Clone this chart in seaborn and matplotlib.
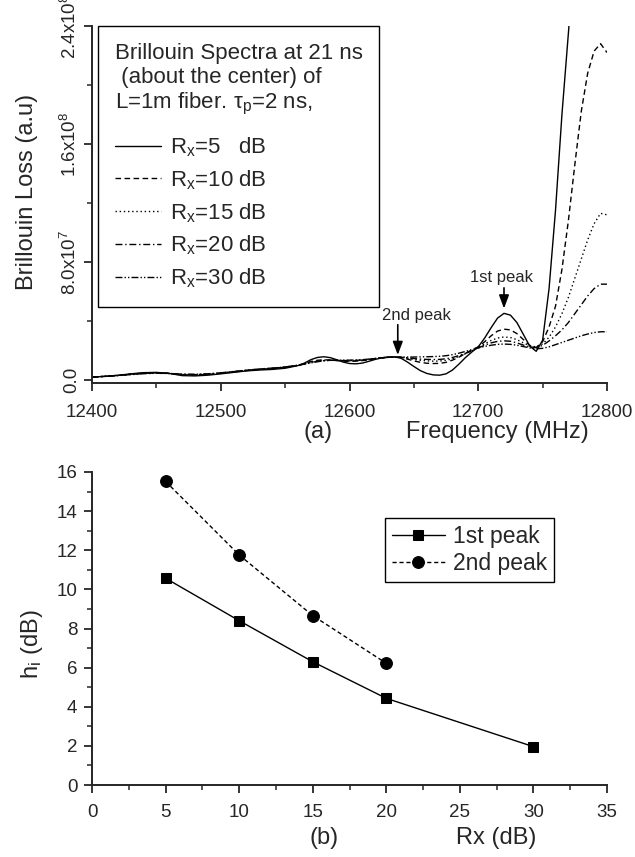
import pandas as pd
import matplotlib
matplotlib.use('Agg')
import matplotlib.pyplot as plt
import seaborn as sns
from matplotlib.ticker import MultipleLocator

# ---- panel (a): Brillouin spectra (units of 1e7) ----
freq = [12400, 12410, 12420, 12430, 12440, 12450, 12460, 12470, 12480, 12490,
        12500, 12510, 12520, 12530, 12540, 12550, 12560, 12565, 12570, 12575,
        12580, 12585, 12590, 12595, 12600, 12605, 12610, 12615, 12620, 12625,
        12630, 12635, 12640, 12645, 12650, 12655, 12660, 12665, 12670, 12675,
        12680, 12685, 12690, 12695, 12700, 12705, 12710, 12715, 12720, 12725,
        12730, 12735, 12740, 12745, 12750, 12755, 12760, 12765, 12770, 12775,
        12780, 12785, 12790, 12795, 12800]

loss_5 = [0.20, 0.25, 0.32, 0.42, 0.50, 0.52, 0.45, 0.30, 0.28, 0.33,
          0.42, 0.52, 0.62, 0.68, 0.72, 0.80, 0.98, 1.15, 1.38, 1.53,
          1.58, 1.52, 1.38, 1.22, 1.12, 1.10, 1.15, 1.27, 1.40, 1.50,
          1.56, 1.57, 1.48, 1.22, 0.92, 0.64, 0.45, 0.35, 0.33, 0.42,
          0.68, 1.08, 1.52, 1.90, 2.25, 2.85, 3.55, 4.20, 4.52, 4.40,
          3.90, 3.10, 2.30, 1.95, 2.70, 6.20, 11.5, 18.0, 23.5, 29.0,
          None, None, None, None, None]
loss_10 = [0.20, 0.25, 0.32, 0.40, 0.47, 0.50, 0.45, 0.36, 0.34, 0.38,
           0.46, 0.55, 0.64, 0.72, 0.78, 0.86, 1.00, 1.12, 1.26, 1.34,
           1.37, 1.36, 1.32, 1.28, 1.27, 1.28, 1.32, 1.38, 1.45, 1.51,
           1.55, 1.56, 1.53, 1.42, 1.30, 1.20, 1.14, 1.12, 1.13, 1.20,
           1.35, 1.55, 1.80, 2.05, 2.25, 2.60, 3.00, 3.32, 3.45, 3.40,
           3.15, 2.75, 2.35, 2.20, 2.60, 3.60, 5.00, 7.50, 10.8, 14.6,
           18.2, 20.8, 22.3, 22.8, 22.2]
loss_15 = [0.20, 0.25, 0.31, 0.39, 0.46, 0.49, 0.45, 0.38, 0.36, 0.40,
           0.47, 0.56, 0.65, 0.73, 0.79, 0.87, 1.00, 1.10, 1.22, 1.30,
           1.34, 1.35, 1.33, 1.31, 1.30, 1.31, 1.34, 1.39, 1.45, 1.50,
           1.54, 1.55, 1.54, 1.47, 1.40, 1.34, 1.30, 1.28, 1.29, 1.34,
           1.44, 1.60, 1.78, 1.98, 2.20, 2.45, 2.68, 2.85, 2.92, 2.88,
           2.74, 2.52, 2.32, 2.25, 2.45, 2.90, 3.60, 4.50, 5.60, 6.90,
           8.20, 9.50, 10.6, 11.3, 11.2]
loss_20 = [0.20, 0.25, 0.31, 0.38, 0.45, 0.48, 0.45, 0.39, 0.37, 0.41,
           0.48, 0.57, 0.66, 0.74, 0.80, 0.88, 1.00, 1.09, 1.19, 1.27,
           1.32, 1.34, 1.34, 1.32, 1.32, 1.33, 1.36, 1.40, 1.46, 1.51,
           1.54, 1.55, 1.55, 1.51, 1.46, 1.42, 1.40, 1.39, 1.40, 1.44,
           1.53, 1.66, 1.81, 1.98, 2.18, 2.36, 2.52, 2.62, 2.66, 2.63,
           2.52, 2.37, 2.25, 2.20, 2.35, 2.65, 3.00, 3.40, 3.90, 4.50,
           5.10, 5.70, 6.20, 6.50, 6.50]
loss_30 = [0.20, 0.25, 0.30, 0.37, 0.43, 0.46, 0.44, 0.40, 0.39, 0.42,
           0.49, 0.58, 0.67, 0.75, 0.81, 0.89, 1.00, 1.08, 1.16, 1.24,
           1.30, 1.33, 1.35, 1.35, 1.35, 1.36, 1.38, 1.42, 1.47, 1.51,
           1.54, 1.55, 1.56, 1.56, 1.56, 1.57, 1.58, 1.59, 1.61, 1.65,
           1.72, 1.82, 1.94, 2.06, 2.18, 2.28, 2.36, 2.42, 2.44, 2.42,
           2.36, 2.27, 2.18, 2.12, 2.15, 2.25, 2.40, 2.55, 2.70, 2.85,
           3.00, 3.12, 3.22, 3.27, 3.28]

rx_names = ['5', '10', '15', '20', '30']
rx_labels = ['R$_\\mathrm{x}$=5   dB', 'R$_\\mathrm{x}$=10 dB', 'R$_\\mathrm{x}$=15 dB',
             'R$_\\mathrm{x}$=20 dB', 'R$_\\mathrm{x}$=30 dB']
ytick_vals = [0, 8e7, 1.6e8, 2.4e8]
ytick_labels = ['0.0', '8.0x10$^{7}$', '1.6x10$^{8}$', '2.4x10$^{8}$']

# ---- panel (b): peak heights ----
rx_1st = [5, 10, 15, 20, 30]
h_1st = [10.57, 8.40, 6.30, 4.43, 1.96]
rx_2nd = [5, 10, 15, 20]
h_2nd = [15.52, 11.76, 8.66, 6.22]

sns.set_style('ticks')
plt.rcParams['font.family'] = ['Liberation Sans', 'DejaVu Sans']
plt.rcParams['mathtext.fontset'] = 'custom'
plt.rcParams['mathtext.rm'] = 'Liberation Sans'
plt.rcParams['mathtext.it'] = 'Liberation Sans:italic'
plt.rcParams['mathtext.bf'] = 'Liberation Sans:bold'
plt.rcParams['axes.linewidth'] = 1.4
plt.rcParams['xtick.major.width'] = 1.3
plt.rcParams['ytick.major.width'] = 1.3
plt.rcParams['xtick.minor.width'] = 1.1
plt.rcParams['ytick.minor.width'] = 1.1
plt.rcParams['xtick.major.size'] = 6
plt.rcParams['ytick.major.size'] = 6
plt.rcParams['xtick.minor.size'] = 3.5
plt.rcParams['ytick.minor.size'] = 3.5
plt.rcParams['xtick.direction'] = 'out'
plt.rcParams['ytick.direction'] = 'out'

fig = plt.figure(figsize=(6.35, 8.57), dpi=100)
W, H = 635, 857
ax1 = fig.add_axes([92 / W, 1 - 383 / H, 515 / W, 357 / H])
ax2 = fig.add_axes([92 / W, 1 - 785 / H, 515 / W, 313 / H])

# build long table for seaborn
rows = []
for name, vals in zip(rx_names, [loss_5, loss_10, loss_15, loss_20, loss_30]):
    for f, v in zip(freq, vals):
        if v is not None:
            rows.append({'freq': f, 'loss': v * 1e7, 'rx': name})
spec = pd.DataFrame(rows)

dash_map = {'5': '', '10': (4, 2.5), '15': (1, 2), '20': (5, 2, 1, 2), '30': (5, 1.5, 1, 1.5, 1, 1.5)}
sns.lineplot(data=spec, x='freq', y='loss', style='rx', style_order=rx_names,
             dashes=dash_map, color='black', lw=1.0, estimator=None, sort=False,
             ax=ax1, legend=True)

handles, labels = ax1.get_legend_handles_labels()
hmap = dict(zip(labels, handles))
leg_handles = [hmap[n] for n in rx_names]
for h in leg_handles:
    h.set_color('black')
ax1.get_legend().remove()
title = ('Brillouin Spectra at 21 ns\n (about the center) of\n'
         'L=1m fiber. \u03c4$_\\mathrm{p}$=2 ns,')
leg1 = ax1.legend(leg_handles, rx_labels, title=title, loc='upper left',
                  bbox_to_anchor=(6 / 515, 1.0), borderaxespad=0, fontsize=16,
                  title_fontsize=16, alignment='left', handlelength=2.1,
                  handletextpad=0.4, labelspacing=0.41, borderpad=0.75,
                  fancybox=False, framealpha=1, edgecolor='black')
leg1.get_frame().set_linewidth(1.0)
leg1._legend_box.sep = 13  # extra gap between the caption and the entries

ax1.set_xlim(12400, 12800)
ax1.set_ylim(-2e6, 2.4e8)
ax1.set_xticks([12400, 12500, 12600, 12700, 12800])
ax1.xaxis.set_minor_locator(MultipleLocator(50))
ax1.set_yticks(ytick_vals, ytick_labels)
ax1.yaxis.set_minor_locator(MultipleLocator(4e7))
ax1.tick_params(axis='both', which='major', labelsize=13.5)
ax1.tick_params(axis='x', which='major', pad=9)
ax1.tick_params(axis='y', labelrotation=90, pad=2.5)
for t in ax1.get_yticklabels():
    t.set_va('center')
sns.despine(ax=ax1)

ax1.set_xlabel('Frequency (MHz)', fontsize=17)
ax1.xaxis.set_label_coords(0.788, -0.137)
ax1.xaxis.label.set_va('center')
ax1.set_ylabel('Brillouin Loss (a.u)', fontsize=17)
ax1.yaxis.set_label_coords(-0.126, 0.534)
ax1.yaxis.label.set_va('center')
ax1.text(0.439, -0.137, '(a)', transform=ax1.transAxes, fontsize=17, ha='center', va='center')

arrow = dict(arrowstyle='-|>,head_length=0.8,head_width=0.3', color='black', lw=1.2,
             shrinkA=0, shrinkB=0)
ax1.annotate('', xy=(12720, 4.85e7), xytext=(12720, 6.25e7), arrowprops=arrow)
ax1.text(12718, 6.95e7, '1st peak', fontsize=12, ha='center', va='center')
ax1.annotate('', xy=(12637.5, 1.7e7), xytext=(12637.5, 3.75e7), arrowprops=arrow)
ax1.text(12652, 4.4e7, '2nd peak', fontsize=12, ha='center', va='center')

# ---- panel (b) ----
sns.lineplot(x=rx_1st, y=h_1st, color='black', lw=1.0, marker='s', markersize=7.5,
             markeredgecolor='black', label='1st peak', ax=ax2)
sns.lineplot(x=rx_2nd, y=h_2nd, color='black', lw=1.0, marker='o', markersize=8.5,
             markeredgecolor='black', linestyle=(0, (3, 2)), label='2nd peak', ax=ax2)
leg2 = ax2.legend(loc='upper left', bbox_to_anchor=(0.569, 0.853), borderaxespad=0,
                  fontsize=16.5, handlelength=2.3, handletextpad=0.35, labelspacing=0.2,
                  borderpad=0.3, fancybox=False, framealpha=1, edgecolor='black')
leg2.get_frame().set_linewidth(1.0)

ax2.set_xlim(0, 35)
ax2.set_ylim(0, 16)
ax2.xaxis.set_major_locator(MultipleLocator(5))
ax2.xaxis.set_minor_locator(MultipleLocator(2.5))
ax2.yaxis.set_major_locator(MultipleLocator(2))
ax2.yaxis.set_minor_locator(MultipleLocator(1))
ax2.tick_params(axis='both', which='major', labelsize=13.5)
ax2.tick_params(axis='x', which='major', pad=7.5)
ax2.tick_params(axis='y', which='major', pad=4.5)
sns.despine(ax=ax2)

ax2.set_xlabel('Rx (dB)', fontsize=17)
ax2.xaxis.set_label_coords(0.784, -0.169)
ax2.xaxis.label.set_va('center')
ax2.set_ylabel('h$_\\mathrm{i}$ (dB)', fontsize=17)
ax2.yaxis.set_label_coords(-0.1165, 0.45)
ax2.yaxis.label.set_va('center')
ax2.text(0.450, -0.169, '(b)', transform=ax2.transAxes, fontsize=17, ha='center', va='center')

fig.savefig('out.png', dpi=100)
